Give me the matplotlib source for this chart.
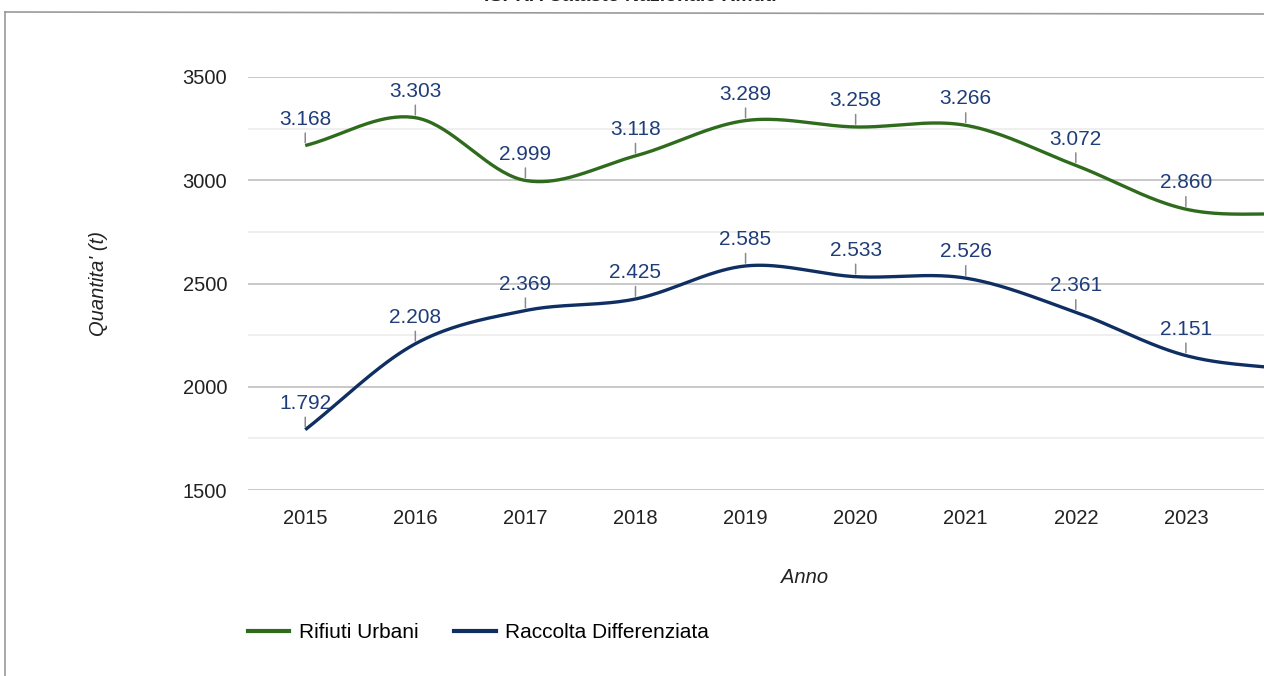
import numpy as np
import matplotlib
matplotlib.use("Agg")
import matplotlib.pyplot as plt
from matplotlib.lines import Line2D

plt.rcParams['font.family'] = ['Liberation Sans', 'DejaVu Sans']

### Data (t per year)
anni = [2015, 2016, 2017, 2018, 2019, 2020, 2021, 2022, 2023, 2024]
rifiuti_urbani = [3168, 3303, 2999, 3118, 3289, 3258, 3266, 3072, 2860, 2835]
raccolta_diff = [1792, 2208, 2369, 2425, 2585, 2533, 2526, 2361, 2151, 2080]
etichette_ru = ['3.168', '3.303', '2.999', '3.118', '3.289', '3.258', '3.266', '3.072', '2.860', '']
etichette_rd = ['1.792', '2.208', '2.369', '2.425', '2.585', '2.533', '2.526', '2.361', '2.151', '']
y_ticks = [1500, 2000, 2500, 3000, 3500]

verde = '#2f6b1c'
blu = '#0f2f63'
col_etich = '#1f3d78'


def curva(x, y, n=40):
    # smooth line through the points (catmull-rom style)
    x = np.asarray(x, float)
    y = np.asarray(y, float)
    m = np.zeros_like(y)
    m[1:-1] = (y[2:] - y[:-2]) / 2
    m[0] = y[1] - y[0]
    m[-1] = y[-1] - y[-2]
    xs, ys = [], []
    for i in range(len(x) - 1):
        t = np.linspace(0, 1, n)
        h00 = 2 * t**3 - 3 * t**2 + 1
        h10 = t**3 - 2 * t**2 + t
        h01 = -2 * t**3 + 3 * t**2
        h11 = t**3 - t**2
        xs.append(x[i] + t * (x[i + 1] - x[i]))
        ys.append(h00 * y[i] + h10 * m[i] + h01 * y[i + 1] + h11 * m[i + 1])
    return np.concatenate(xs), np.concatenate(ys)


fig = plt.figure(figsize=(12.64, 6.76), dpi=100)
ax = fig.add_axes([248 / 1264, 1 - 490 / 676, (1351 - 248) / 1264, (490 - 77) / 676])

ax.set_xlim(2014.48, 2024.5)
ax.set_ylim(1500, 3500)
ax.set_yticks(y_ticks)
ax.set_yticks(np.arange(1750, 3500, 500), minor=True)
ax.set_xticks(anni[:-1])
ax.grid(axis='y', which='major', color='#c8c8c8', linewidth=1.4)
ax.grid(axis='y', which='minor', color='#ececec', linewidth=1.2)
ax.set_axisbelow(True)
for s in ax.spines.values():
    s.set_visible(False)
ax.tick_params(axis='both', which='both', length=0, labelsize=14.5, labelcolor='#222222')
ax.tick_params(axis='y', pad=15)
ax.tick_params(axis='x', pad=14)

xr, yr = curva(anni, rifiuti_urbani)
xd, yd = curva(anni, raccolta_diff)
ax.plot(xr, yr, color=verde, linewidth=2.4, label='Rifiuti Urbani', solid_capstyle='butt')
ax.plot(xd, yd, color=blu, linewidth=2.4, label='Raccolta Differenziata', solid_capstyle='butt')

### data labels with small stems
for serie, etich in [(rifiuti_urbani, etichette_ru), (raccolta_diff, etichette_rd)]:
    for a, v, e in zip(anni, serie, etich):
        if not e:
            continue
        ax.annotate('', xy=(a, v), xytext=(0, 11), textcoords='offset points',
                    arrowprops=dict(arrowstyle='-', color='#8a8a8a', lw=1.1))
        ax.annotate(e, xy=(a, v), xytext=(0, 15), textcoords='offset points',
                    ha='center', va='baseline', fontsize=15, color=col_etich)

ax.set_ylabel("Quantita' (t)", fontsize=14.5, style='italic', color='#222222')
ax.yaxis.set_label_coords(-(248 - 108) / (1351 - 248), 0.5)
ax.set_xlabel('Anno', fontsize=14.5, style='italic', color='#222222')
ax.xaxis.set_label_coords((805 - 248) / (1351 - 248), -(568 - 490) / (490 - 77))

fig.legend(handles=[Line2D([], [], color=verde, lw=3), Line2D([], [], color=blu, lw=3)],
           labels=['Rifiuti Urbani', 'Raccolta Differenziata'],
           loc='center left', bbox_to_anchor=(229 / 1264, 1 - 633 / 676), ncol=2,
           frameon=False, fontsize=15, handlelength=2.0, handletextpad=0.45, columnspacing=1.7)

### cut-off title and scanned page frame
fig.text(630 / 1264, 1.005, 'ISPRA Catasto Nazionale Rifiuti', ha='center', va='center',
         fontsize=14, fontweight='bold', color='#222222')
fig.add_artist(Line2D([5 / 1264, 5 / 1264], [0, 1 - 12 / 676], color='#9a9a9a', lw=1.2))
fig.add_artist(Line2D([5 / 1264, 1], [1 - 12 / 676, 1 - 14 / 676], color='#9a9a9a', lw=1.2))

fig.savefig('out.png', dpi=100)
